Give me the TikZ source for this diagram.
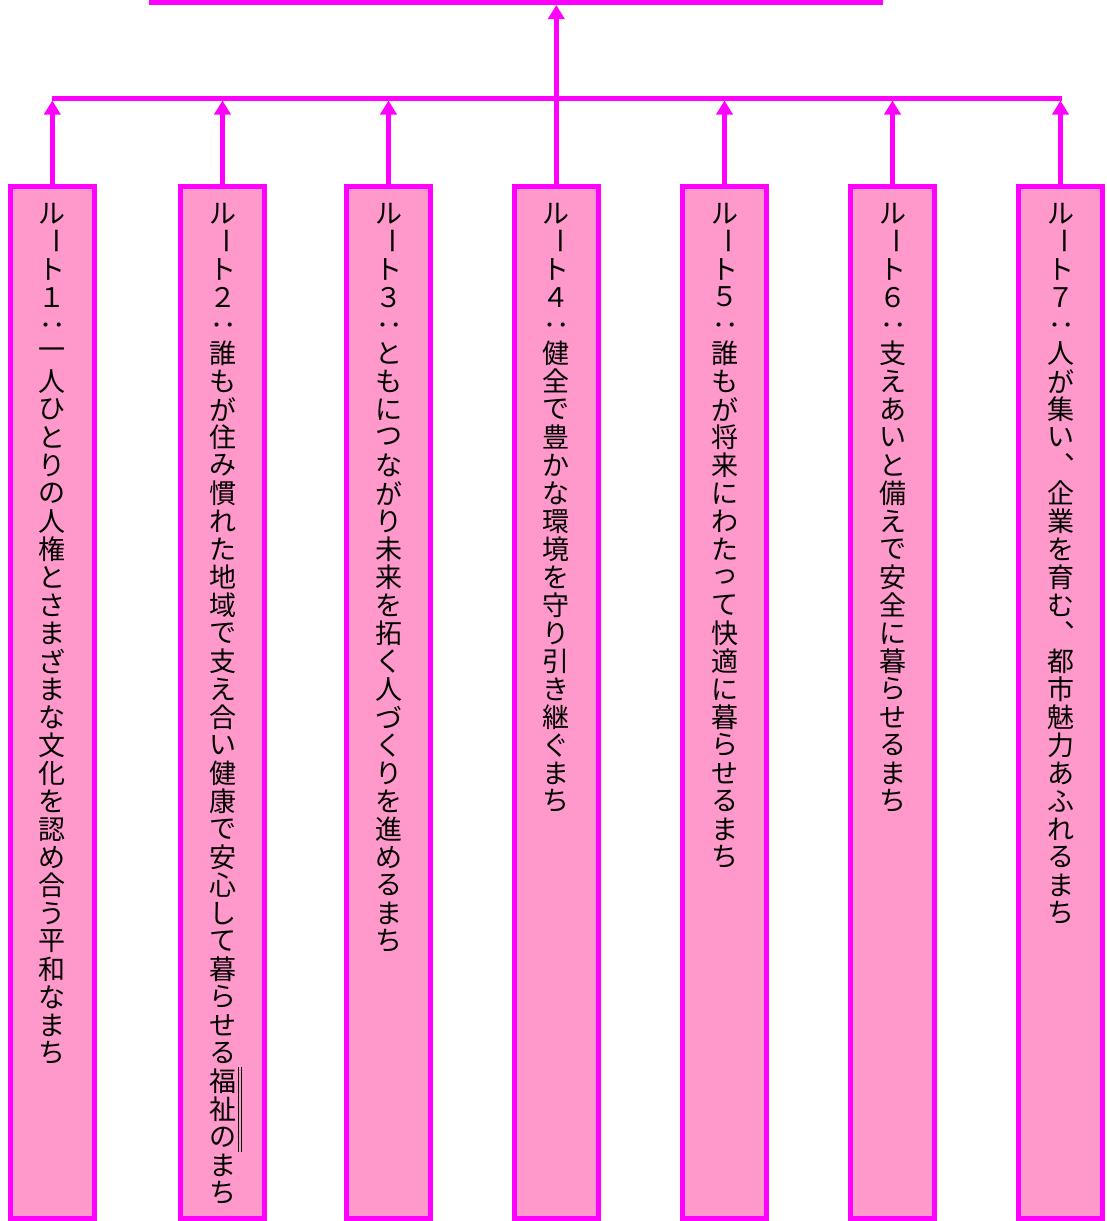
\documentclass[tikz,border=0pt]{standalone}
\usepackage{fontspec}
\usepackage{graphicx}
\usetikzlibrary{arrows.meta}
\newfontfamily\cjk{Noto Sans CJK JP}
\definecolor{mag}{HTML}{FF00FF}
\definecolor{pinkfill}{HTML}{FF99CC}

\ExplSyntaxOn
\dim_new:N \l_vt_cell_dim
\dim_set:Nn \l_vt_cell_dim {28pt}
\cs_new_protected:Npn \vt_glyph:n #1
 {
  \str_case:nnF {#1}
   {
    {ー} { \rotatebox[origin=c]{-90}{ー} }
    {：} { \rotatebox[origin=c]{-90}{：} }
    {、} { \hbox_overlap_right:n { \kern 17pt \raisebox{17pt}{、} } \phantom{あ} }
   }
   { #1 }
 }
\cs_new_protected:Npn \vt_cell:n #1
 {
  \vbox_to_ht:nn { \l_vt_cell_dim }
   { \vss \hbox_to_wd:nn { \l_vt_cell_dim } { \hss \vt_glyph:n {#1} \hss } \vss }
 }
\NewDocumentCommand \vtext { m }
 { \vbox:n { \offinterlineskip \tl_map_inline:nn {#1} { \vt_cell:n {##1} } } }
\ExplSyntaxOff

\tikzset{
  routebox/.style={draw=mag, fill=pinkfill, line width=5pt, inner sep=0pt,
    minimum width=84pt, minimum height=1032.5pt},
  topbox/.style={draw=mag, fill=pinkfill, line width=5pt, inner sep=0pt,
    minimum width=729pt, minimum height=405pt},
  vlabel/.style={anchor=north, inner sep=0pt, text=black,
    font=\cjk\fontsize{27}{28}\selectfont},
  conn/.style={draw=mag, line width=5pt, -{Triangle[width=16pt,length=14pt]}},
  bus/.style={draw=mag, line width=5pt},
}

\begin{document}
\begin{tikzpicture}[x=1pt,y=-1pt]
\useasboundingbox (0,0) rectangle (1107,1221);
\clip (0,0) rectangle (1107,1221);

% top box (mostly outside the picture)
\node[topbox] (top) at (516,-199.8) {};

% route boxes
\node[routebox] (b1) at (52.3,702.25) {};
\node[routebox] (b2) at (222.5,702.25) {};
\node[routebox] (b3) at (388.5,702.25) {};
\node[routebox] (b4) at (556.3,702.25) {};
\node[routebox] (b5) at (724.5,702.25) {};
\node[routebox] (b6) at (892.5,702.25) {};
\node[routebox] (b7) at (1060.5,702.25) {};

% vertical texts
\node[vlabel] (t1) at (52.3,199) {\vtext{ルート１：一人ひとりの人権とさまざまな文化を認め合う平和なまち}};
\node[vlabel] (t2) at (222.5,199) {\vtext{ルート２：誰もが住み慣れた地域で支え合い健康で安心して暮らせる福祉のまち}};
\node[vlabel] (t3) at (388.5,199) {\vtext{ルート３：ともにつながり未来を拓く人づくりを進めるまち}};
\node[vlabel] (t4) at (556.3,199) {\vtext{ルート４：健全で豊かな環境を守り引き継ぐまち}};
\node[vlabel] (t5) at (724.5,199) {\vtext{ルート５：誰もが将来にわたって快適に暮らせるまち}};
\node[vlabel] (t6) at (892.5,199) {\vtext{ルート６：支えあいと備えで安全に暮らせるまち}};
\node[vlabel] (t7) at (1060.5,199) {\vtext{ルート７：人が集い、企業を育む、都市魅力あふれるまち}};

% double side line next to 福祉の
\draw[black, line width=0.9pt] (238.4,1067) -- (238.4,1152);
\draw[black, line width=0.9pt] (241.2,1067) -- (241.2,1152);

% bus line
\coordinate (hl) at (52.3,98);
\coordinate (hr) at (1062,98);
\draw[bus] (hl) -- (hr);

% arrow end points on the bus
\coordinate (a1) at (52.3,100.5);
\coordinate (a2) at (222.5,100.5);
\coordinate (a3) at (388.5,100.5);
\coordinate (a5) at (724.5,100.5);
\coordinate (a6) at (892.5,100.5);
\coordinate (a7) at (1060.5,100.5);
\coordinate (tt) at (556.3,5);

\draw[conn] (b1.north) -- (a1);
\draw[conn] (b2.north) -- (a2);
\draw[conn] (b3.north) -- (a3);
\draw[conn] (b5.north) -- (a5);
\draw[conn] (b6.north) -- (a6);
\draw[conn] (b7.north) -- (a7);
\draw[conn] (b4.north) -- (tt);
\end{tikzpicture}
\end{document}
